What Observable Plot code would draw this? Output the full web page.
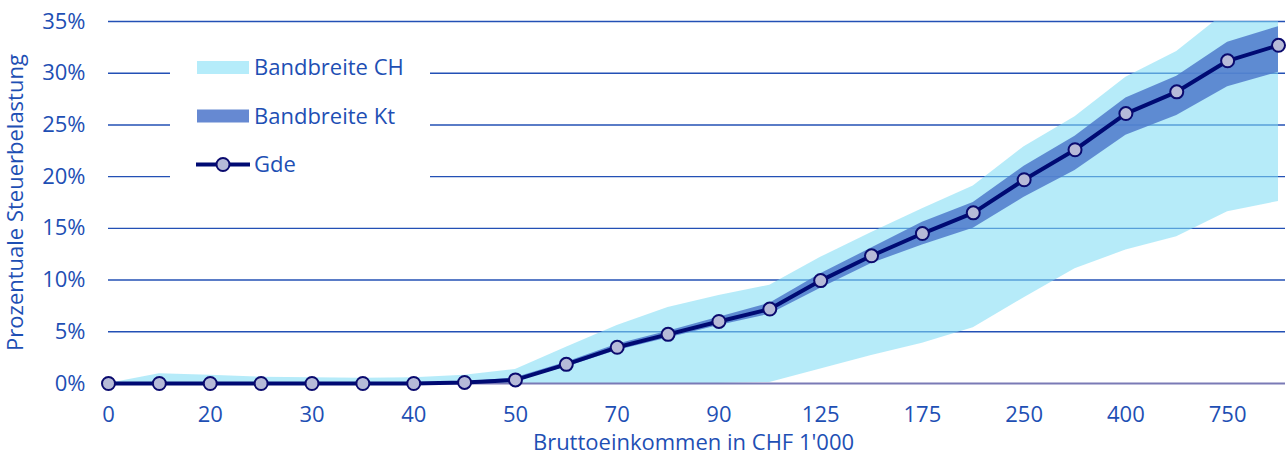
<!DOCTYPE html>
<html>
<head>
<meta charset="utf-8">
<script src="https://cdn.jsdelivr.net/npm/d3@7"></script>
<script src="https://cdn.jsdelivr.net/npm/@observablehq/plot@0.6"></script>
<style>
  html, body { margin: 0; padding: 0; background: #fff; }
  #wrap { position: relative; width: 1287px; height: 452px; font-family: "Open Sans", sans-serif; }
  #legend { position: absolute; left: 0; top: 0; pointer-events: none; }
</style>
</head>
<body>
<div id="wrap"></div>
<script>
// Categories (gross income in CHF 1'000)
const income = ["0","10","20","25","30","35","40","45","50","60","70","80","90","100","125","150","175","200","250","300","400","500","750","1000"];
// Tick labels shown on the x axis
const xTicks = ["0","20","30","40","50","70","90","125","175","250","400","750"];
// Gemeinde (Gde) tax burden in %
const gde   = [0,0,0,0,0,0,0,0.1,0.35,1.85,3.5,4.75,6.0,7.2,9.95,12.35,14.5,16.5,19.7,22.6,26.1,28.2,31.2,32.7];
// Cantonal range (Bandbreite Kt)
const ktMin = [0,0,0,0,0,0,0,0.05,0.25,1.6,3.2,4.4,5.6,6.7,9.2,11.6,13.4,15.0,18.0,20.6,24.0,25.9,28.7,30.1];
const ktMax = [0,0,0,0,0,0,0,0.15,0.55,2.05,3.8,5.05,6.4,7.75,10.6,13.1,15.6,17.5,21.0,23.9,27.6,29.7,33.0,34.5];
// Swiss range (Bandbreite CH)
const chMin = [0,0,0,0,0,0,0,0,0,0,0,0,0,0.1,1.4,2.7,3.9,5.4,8.3,11.1,12.9,14.2,16.6,17.6];
const chMax = [0,0.95,0.8,0.6,0.55,0.5,0.55,0.8,1.35,3.5,5.6,7.35,8.5,9.5,12.2,14.6,16.9,19.1,22.9,25.8,29.6,32.1,36.0,37.0];
// y ticks
const yTicks = [0,5,10,15,20,25,30,35];
const gridTicks = [5,10,15,20,25,30,35];

const data = income.map((k, i) => ({
  k, gde: gde[i], ktMin: ktMin[i], ktMax: ktMax[i], chMin: chMin[i], chMax: chMax[i]
}));

const textColor = "#1e4fb4";

const chart = Plot.plot({
  width: 1287,
  height: 452,
  marginLeft: 108,
  marginRight: 9,
  marginTop: 21,
  marginBottom: 69,
  style: { fontFamily: "'Open Sans', sans-serif", fontSize: "22px", color: textColor, background: "#fff", overflow: "visible" },
  x: { type: "point", domain: income, padding: 0, round: false },
  y: { domain: [0, 35] },
  marks: [
    Plot.ruleY(gridTicks, { stroke: "#2350b5", strokeWidth: 1.4, insetRight: -7 }),
    Plot.areaY(data, { x: "k", y1: "chMin", y2: "chMax", fill: "#7fdcf5", fillOpacity: 0.57, clip: true }),
    Plot.areaY(data, { x: "k", y1: "ktMin", y2: "ktMax", fill: "#4f7acb", fillOpacity: 0.85, clip: true }),
    Plot.ruleY([0], { stroke: "#7a7ab6", strokeWidth: 2.2, insetRight: -7 }),
    Plot.lineY(data, { x: "k", y: "gde", stroke: "#000a73", strokeWidth: 4 }),
    Plot.dot(data, { x: "k", y: "gde", r: 6.5, fill: "#b6bad8", stroke: "#0a0a6e", strokeWidth: 2 }),
    Plot.axisY({
      ticks: yTicks, tickSize: 0, tickPadding: 23, tickFormat: d => d + "%",
      fill: textColor, fontSize: 22,
      label: "Prozentuale Steuerbelastung", labelAnchor: "center", labelArrow: "none", labelOffset: 101
    }),
    Plot.axisX({
      ticks: xTicks, tickSize: 0, tickPadding: 23,
      fill: textColor, fontSize: 22,
      label: "Bruttoeinkommen in CHF 1'000", labelAnchor: "center", labelArrow: "none", labelOffset: 66
    })
  ]
});

const wrap = document.getElementById("wrap");
wrap.appendChild(chart);

// Legend overlay (white box masking the gridlines)
const legendItems = [
  { label: "Bandbreite CH", kind: "swatch", color: "#b5ecfa" },
  { label: "Bandbreite Kt", kind: "swatch", color: "#6689d2" },
  { label: "Gde", kind: "line" }
];
const ns = "http://www.w3.org/2000/svg";
const lg = document.createElementNS(ns, "svg");
lg.setAttribute("id", "legend");
lg.setAttribute("width", 1287);
lg.setAttribute("height", 452);
let html = '<rect x="170" y="40" width="260" height="158" fill="#fff"/>';
legendItems.forEach((it, i) => {
  const cy = 67.5 + i * 48.5;
  if (it.kind === "swatch") {
    html += `<rect x="197" y="${cy - 6.5}" width="52" height="13" fill="${it.color}"/>`;
  } else {
    html += `<line x1="196" x2="250" y1="${cy}" y2="${cy}" stroke="#000a73" stroke-width="4"/>`;
    html += `<circle cx="223" cy="${cy}" r="6.5" fill="#b6bad8" stroke="#0a0a6e" stroke-width="2"/>`;
  }
  html += `<text x="254" y="${cy + 7.5}" fill="${textColor}" font-family="'Open Sans', sans-serif" font-size="22">${it.label}</text>`;
});
lg.innerHTML = html;
wrap.appendChild(lg);
</script>
</body>
</html>
